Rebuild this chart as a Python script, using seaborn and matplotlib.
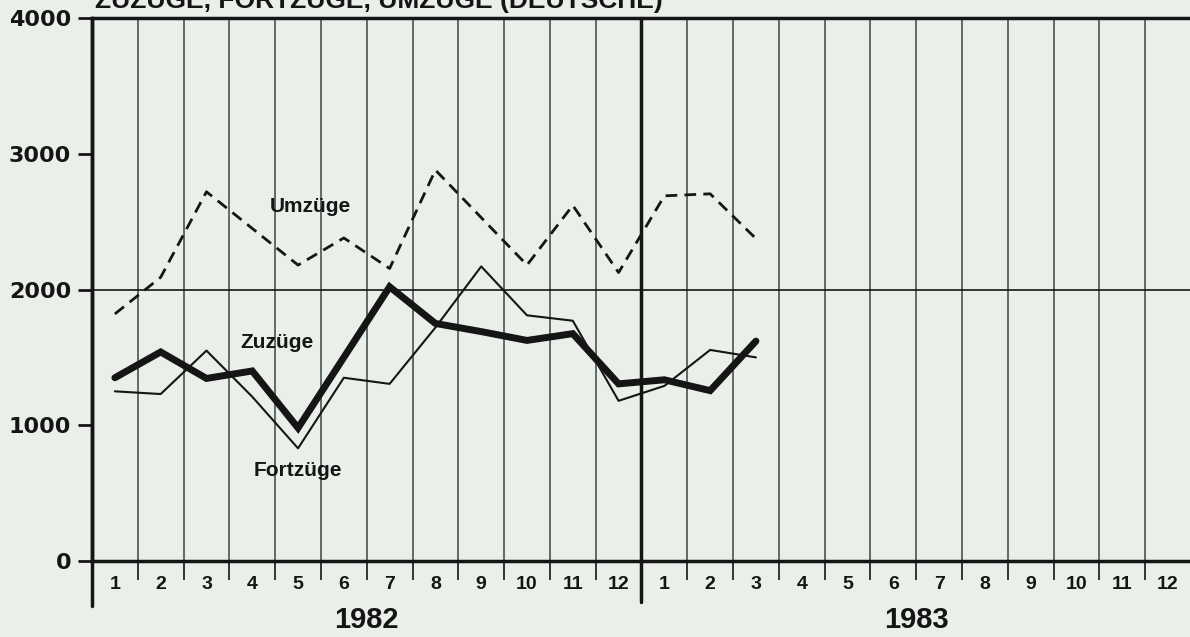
import numpy as np
import pandas as pd
import matplotlib.pyplot as plt
import seaborn as sns

# Monatswerte Jan 1982 - Maerz 1983
months = list(range(1, 16))
zuzuege = [1350, 1540, 1345, 1400, 980, 1500, 2020, 1750, 1690, 1625, 1675, 1305, 1335, 1255, 1620]
fortzuege = [1250, 1230, 1550, 1210, 830, 1350, 1305, 1720, 2170, 1810, 1770, 1180, 1290, 1555, 1500]
umzuege = [1820, 2090, 2720, 2450, 2180, 2380, 2155, 2880, 2530, 2180, 2620, 2125, 2690, 2705, 2375]

month_labels = [str(m) for m in range(1, 13)] * 2
years = ["1982", "1983"]
y_ticks = [0, 1000, 2000, 3000, 4000]
title = "ZUZÜGE, FORTZÜGE, UMZÜGE (DEUTSCHE)"

bg = "#EAEFE9"
ink = "#151515"
grid_col = "#3a4745"

sns.set_theme(style="white", rc={"axes.facecolor": bg, "figure.facecolor": bg})
plt.rcParams["font.family"] = ["Liberation Sans", "DejaVu Sans"]
plt.rcParams["font.weight"] = "bold"

fig = plt.figure(figsize=(11.9, 6.37), dpi=100)
ax = fig.add_axes([0.0773, 0.1193, 0.9235, 0.8524])

df = pd.DataFrame({"Monat": months, "Zuzüge": zuzuege,
                   "Fortzüge": fortzuege, "Umzüge": umzuege})

sns.lineplot(data=df, x="Monat", y="Umzüge", ax=ax, color=ink, lw=2.0,
             linestyle=(0, (4.2, 2.6)))
sns.lineplot(data=df, x="Monat", y="Fortzüge", ax=ax, color=ink, lw=1.5)
sns.lineplot(data=df, x="Monat", y="Zuzüge", ax=ax, color=ink, lw=5,
             solid_joinstyle="miter")
ax.set_xlabel("")
ax.set_ylabel("")

ax.set_xlim(0.5, 24.5)
ax.set_ylim(0, 4000)

# Monate als Beschriftung, Monatsgrenzen als Gitter
ax.set_xticks(np.arange(1, 25), labels=month_labels)
ax.set_xticks(np.arange(0.5, 25), minor=True)
ax.tick_params(axis="x", which="major", length=0, pad=11, labelsize=14,
               labelcolor=ink)
ax.tick_params(axis="x", which="minor", length=14, width=1.2,
               direction="out", color=ink, bottom=True)
ax.grid(which="minor", axis="x", color=grid_col, lw=1.1)

ax.set_yticks(y_ticks)
ax.tick_params(axis="y", length=10, width=2, direction="out", pad=5,
               labelsize=16, color=ink, labelcolor=ink, left=True)
for lab in ax.get_yticklabels():
    lab.set_family("DejaVu Sans")
    lab.set_weight("bold")

ax.axhline(2000, color=ink, lw=1.2)
ax.axvline(12.5, ymin=-0.075, ymax=1, color=ink, lw=2.5, clip_on=False)
ax.axvline(0.5, ymin=-0.082, ymax=1, color=ink, lw=2.5, clip_on=False)

for side in ["top", "bottom", "left"]:
    ax.spines[side].set_color(ink)
    ax.spines[side].set_linewidth(2.5)
ax.spines["right"].set_visible(False)

for i, yr in enumerate(years):
    ax.text(6.5 + 12 * i, -0.109, yr, transform=ax.get_xaxis_transform(),
            ha="center", va="center", fontsize=21, fontweight="bold", color=ink)

ax.text(5.26, 2608, "Umzüge", ha="center", va="center", fontsize=15, color=ink)
ax.text(4.54, 1613, "Zuzüge", ha="center", va="center", fontsize=15, color=ink)
ax.text(5.0, 670, "Fortzüge", ha="center", va="center", fontsize=15, color=ink)

# Titel ist im Original oben angeschnitten
fig.text(0.08, 0.9874, title, fontsize=19, fontweight="bold", va="baseline",
         color=ink)

plt.savefig("out.png", dpi=100, facecolor=bg)
